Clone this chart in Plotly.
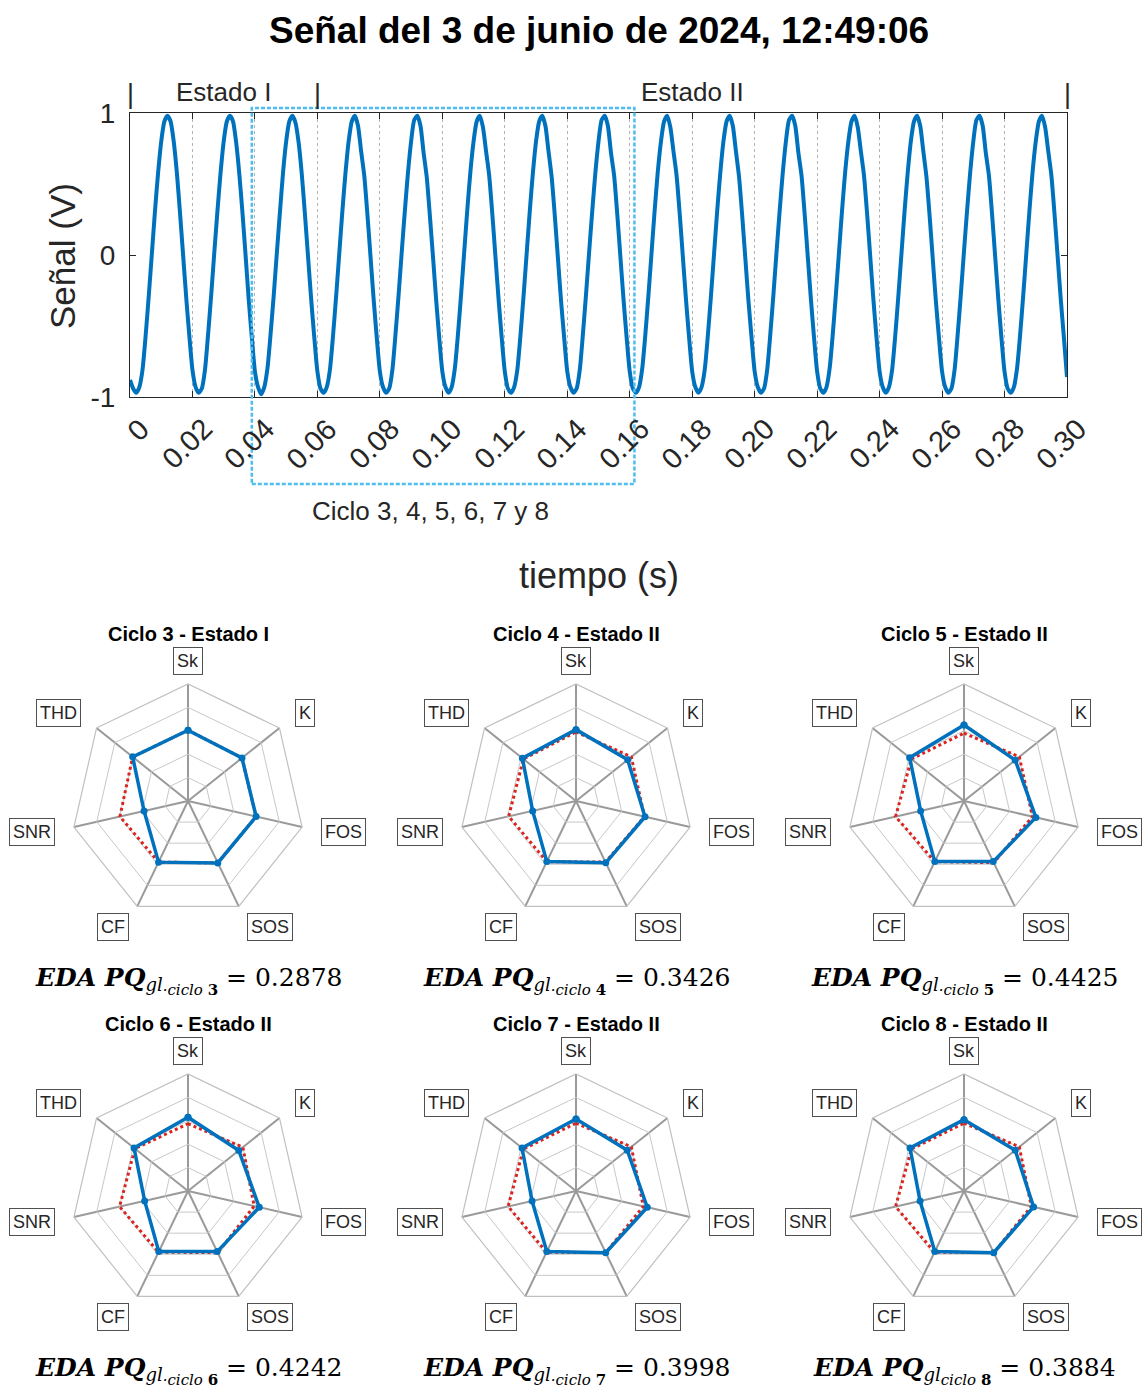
import numpy as np
import plotly.graph_objects as go

# ---------------- data ----------------
sample_period = 0.001  # s
signal_v = [
    -0.88, -0.94,
    -0.97, -0.93, -0.81, -0.57, -0.29, 0.01, 0.31, 0.58, 0.80, 0.94, 0.98, 0.94, 0.80, 0.58, 0.30, 0.00, -0.30, -0.57, -0.81, -0.93,
    -0.97, -0.94, -0.81, -0.56, -0.28, 0.02, 0.31, 0.58, 0.80, 0.94, 0.98, 0.94, 0.79, 0.57, 0.30, 0.00, -0.31, -0.58, -0.82, -0.93,
    -0.98, -0.93, -0.80, -0.56, -0.29, 0.01, 0.30, 0.58, 0.80, 0.94, 0.98, 0.93, 0.79, 0.57, 0.29, -0.01, -0.31, -0.58, -0.82, -0.94,
    -0.97, -0.93, -0.81, -0.57, -0.29, 0.01, 0.31, 0.58, 0.80, 0.94, 0.98, 0.91, 0.73, 0.56, 0.29, -0.01, -0.31, -0.58, -0.82, -0.93,
    -0.97, -0.94, -0.81, -0.56, -0.28, 0.02, 0.31, 0.58, 0.80, 0.95, 0.98, 0.91, 0.72, 0.55, 0.28, -0.01, -0.31, -0.58, -0.82, -0.93,
    -0.97, -0.93, -0.80, -0.56, -0.28, 0.02, 0.32, 0.59, 0.80, 0.94, 0.98, 0.90, 0.73, 0.56, 0.29, -0.01, -0.31, -0.58, -0.82, -0.94,
    -0.97, -0.93, -0.81, -0.57, -0.29, 0.01, 0.31, 0.58, 0.80, 0.94, 0.98, 0.91, 0.73, 0.55, 0.28, -0.02, -0.32, -0.58, -0.82, -0.93,
    -0.97, -0.94, -0.81, -0.56, -0.28, 0.02, 0.31, 0.58, 0.80, 0.95, 0.98, 0.91, 0.72, 0.56, 0.29, -0.01, -0.31, -0.58, -0.82, -0.94,
    -0.97, -0.93, -0.80, -0.56, -0.28, 0.02, 0.32, 0.59, 0.80, 0.94, 0.98, 0.90, 0.73, 0.56, 0.29, -0.01, -0.31, -0.58, -0.82, -0.93,
    -0.97, -0.93, -0.81, -0.57, -0.29, 0.01, 0.31, 0.58, 0.80, 0.94, 0.98, 0.91, 0.73, 0.55, 0.28, -0.02, -0.32, -0.58, -0.82, -0.93,
    -0.97, -0.94, -0.81, -0.56, -0.28, 0.02, 0.31, 0.58, 0.80, 0.95, 0.98, 0.91, 0.72, 0.56, 0.29, -0.01, -0.31, -0.58, -0.82, -0.94,
    -0.97, -0.93, -0.80, -0.56, -0.28, 0.02, 0.32, 0.59, 0.80, 0.94, 0.98, 0.90, 0.73, 0.56, 0.29, -0.01, -0.31, -0.58, -0.82, -0.93,
    -0.97, -0.93, -0.81, -0.57, -0.29, 0.01, 0.31, 0.58, 0.80, 0.94, 0.98, 0.91, 0.73, 0.55, 0.28, -0.02, -0.32, -0.58, -0.82, -0.93,
    -0.97, -0.94, -0.81, -0.56, -0.28, 0.02, 0.31, 0.58, 0.80, 0.95, 0.98, 0.91, 0.72, 0.56, 0.29, -0.01, -0.31, -0.58, -0.82, -0.94,
    -0.97, -0.93, -0.80, -0.56, -0.28, 0.02, 0.32, 0.59, 0.80, 0.94, 0.98, 0.90, 0.73, 0.56, 0.29, -0.01, -0.31, -0.58, -0.86,
]
time_s = np.round(np.arange(len(signal_v)) * sample_period, 3)

time_ticks = [0, 0.02, 0.04, 0.06, 0.08, 0.10, 0.12, 0.14, 0.16, 0.18, 0.20, 0.22, 0.24, 0.26, 0.28, 0.30]
time_tick_labels = ["0", "0.02", "0.04", "0.06", "0.08", "0.10", "0.12", "0.14", "0.16",
                    "0.18", "0.20", "0.22", "0.24", "0.26", "0.28", "0.30"]
volt_ticks = [-1, 0, 1]
volt_tick_labels = ["-1", "0", "1"]

state_bounds = [0, 0.06, 0.30]
state_names = ["Estado I", "Estado II"]
highlight_span = [0.039, 0.1615]

indicators = ["Sk", "K", "FOS", "SOS", "CF", "SNR", "THD"]
cycle_numbers = [3, 4, 5, 6, 7, 8]
cycle_states = ["Estado I", "Estado II", "Estado II", "Estado II", "Estado II", "Estado II"]
eda_values = [0.2878, 0.3426, 0.4425, 0.4242, 0.3998, 0.3884]

blue_c3 = [0.605, 0.59, 0.597, 0.587, 0.58, 0.385, 0.605]
blue_c4 = [0.61, 0.565, 0.605, 0.586, 0.575, 0.38, 0.586]
blue_c5 = [0.65, 0.56, 0.63, 0.575, 0.575, 0.38, 0.594]
blue_c6 = [0.63, 0.555, 0.625, 0.575, 0.575, 0.38, 0.59]
blue_c7 = [0.615, 0.56, 0.625, 0.585, 0.575, 0.385, 0.59]
blue_c8 = [0.61, 0.56, 0.61, 0.585, 0.575, 0.385, 0.59]

red_c3 = [0.605, 0.59, 0.597, 0.587, 0.58, 0.597, 0.605]
red_c4 = [0.59, 0.605, 0.60, 0.58, 0.575, 0.59, 0.575]
red_c5 = [0.58, 0.605, 0.60, 0.585, 0.575, 0.60, 0.575]
red_c6 = [0.575, 0.60, 0.58, 0.585, 0.58, 0.60, 0.58]
red_c7 = [0.58, 0.605, 0.59, 0.585, 0.58, 0.595, 0.575]
red_c8 = [0.58, 0.605, 0.59, 0.585, 0.58, 0.60, 0.575]

blue_sets = [blue_c3, blue_c4, blue_c5, blue_c6, blue_c7, blue_c8]
red_sets = [red_c3, red_c4, red_c5, red_c6, red_c7, red_c8]

# ---------------- layout helpers ----------------
W, H = 1143, 1392
def px(x):
    return x / W
def py(y):
    return 1 - y / H

SANS = "Liberation Sans, Arial, sans-serif"
SERIF = "DejaVu Serif, serif"
BLUE = "#0072BD"
RED = "#D9241F"
INK = "#262626"

AX_L, AX_R, AX_T, AX_B = 130, 1067, 113, 397

def note(text, x, y, size, xref="paper", yref="paper", family=SANS, color=INK, **kw):
    d = dict(text=text, x=x, y=y, xref=xref, yref=yref, showarrow=False,
             xanchor="center", yanchor="middle",
             font=dict(family=family, size=size, color=color))
    d.update(kw)
    return d

fig = go.Figure()
fig.add_trace(go.Scatter(
    x=time_s, y=signal_v, mode="lines",
    line=dict(color=BLUE, width=4, shape="spline", smoothing=0.6),
    showlegend=False, hoverinfo="skip", xaxis="x", yaxis="y"))

annotations = []
shapes = []

annotations.append(note("<b>Señal del 3 de junio de 2024, 12:49:06</b>", px(599), py(31), 37, color="black"))
annotations.append(note("Señal (V)", px(62), py(256), 35, textangle=-90))
annotations.append(note("tiempo (s)", px(599), py(575), 36))
for v, lab in zip(time_ticks, time_tick_labels):
    annotations.append(note(lab, v, py(410), 29, xref="x", textangle=-45,
                            xanchor="right", yanchor="top", xshift=28))
for b in state_bounds:
    annotations.append(note("|", b, py(94), 27, xref="x"))
for i, name in enumerate(state_names):
    annotations.append(note(name, (state_bounds[i] + state_bounds[i + 1]) / 2, py(92), 26, xref="x"))

x_dom = [px(AX_L), px(AX_R)]
def xpaper(v):
    return x_dom[0] + (v - 0) / (0.30 - 0) * (x_dom[1] - x_dom[0])
shapes.append(dict(type="rect", xref="paper", yref="paper",
                   x0=xpaper(highlight_span[0]), x1=xpaper(highlight_span[1]),
                   y0=py(484), y1=py(108),
                   line=dict(color="#4DBEEE", width=2.5, dash="4px,2px")))
annotations.append(note("Ciclo 3, 4, 5, 6, 7 y 8", px(430), py(511), 26))

layout = dict(
    width=W, height=H, autosize=False,
    margin=dict(l=0, r=0, t=0, b=0, pad=0, autoexpand=False),
    paper_bgcolor="white", plot_bgcolor="white",
    showlegend=False,
    xaxis=dict(domain=x_dom, range=[0, 0.30], tickvals=time_ticks, showticklabels=False,
               showgrid=True, gridcolor="#b4b4b4", griddash="dot", gridwidth=1,
               zeroline=False, showline=True, linecolor=INK, linewidth=1, mirror="ticks",
               ticks="inside", ticklen=6, tickcolor=INK, automargin=False),
    yaxis=dict(domain=[py(AX_B), py(AX_T)], range=[-1, 1], tickvals=volt_ticks, ticktext=volt_tick_labels,
               showgrid=False, zeroline=False, showline=True, linecolor=INK, linewidth=1, mirror="ticks",
               ticks="inside", ticklen=6, tickcolor=INK, ticklabelstandoff=8, automargin=False,
               tickfont=dict(family=SANS, size=28, color=INK)),
)

# ---------------- radar charts ----------------
R = 117
centers = [(188, 801), (576, 801), (964, 801), (188, 1191), (576, 1191), (964, 1191)]
n = len(indicators)
theta_closed = indicators + [indicators[0]]
for k, (cx, cy) in enumerate(centers):
    pid = "polar" if k == 0 else f"polar{k + 1}"
    red_vals = red_sets[k]
    blue_vals = blue_sets[k]
    fig.add_trace(go.Scatterpolar(r=red_vals + [red_vals[0]], theta=theta_closed, mode="lines",
                                  line=dict(color=RED, width=3, dash="dot"),
                                  subplot=pid, showlegend=False, hoverinfo="skip"))
    fig.add_trace(go.Scatterpolar(r=blue_vals + [blue_vals[0]], theta=theta_closed, mode="lines+markers",
                                  line=dict(color=BLUE, width=3.5), marker=dict(color=BLUE, size=7),
                                  subplot=pid, showlegend=False, hoverinfo="skip"))
    layout[pid] = dict(
        domain=dict(x=[px(cx - R), px(cx + R)], y=[py(cy + R), py(cy - R)]),
        bgcolor="white", gridshape="linear",
        angularaxis=dict(rotation=90, direction="clockwise", showticklabels=False, ticks="",
                         gridcolor="#9a9a9a", gridwidth=1.5, showline=True, linecolor="#c0c0c0", linewidth=1.2),
        radialaxis=dict(range=[0, 1], tickvals=[0.2, 0.4, 0.6, 0.8], showticklabels=False, ticks="",
                        gridcolor="#c8c8c8", gridwidth=1, showline=False),
    )
    for i, lab in enumerate(indicators):
        ang = np.deg2rad(90 - i * 360 / n)
        c, s = np.cos(ang), np.sin(ang)
        lx = cx + 1.17 * R * c
        ly = cy - 1.2 * R * s
        xa = "left" if c > 0.3 else ("right" if c < -0.3 else "center")
        annotations.append(note(lab, px(lx), py(ly), 18, xanchor=xa,
                                bordercolor="#505050", borderwidth=1, borderpad=3, bgcolor="white"))
    annotations.append(note(f"<b>Ciclo {cycle_numbers[k]} - {cycle_states[k]}</b>",
                            px(cx), py(cy - 167), 20, color="black"))
    sep = "" if cycle_numbers[k] == 8 else "·"
    eda_txt = (f"<b><i>EDA PQ</i></b><sub><span style='font-size:18px'><i>gl</i></span>"
               f"<sub><span style='font-size:15px'><i>{sep}ciclo</i> <b>{cycle_numbers[k]}</b></span></sub></sub>"
               f" = {eda_values[k]:.4f}")
    annotations.append(note(eda_txt, px(cx), py(cy + 180), 25, family=SERIF, color="black"))

layout["annotations"] = annotations
layout["shapes"] = shapes
fig.update_layout(**layout)

fig.write_html("out.html", config={"displayModeBar": False},
               post_script="document.body.style.margin='0px';")
